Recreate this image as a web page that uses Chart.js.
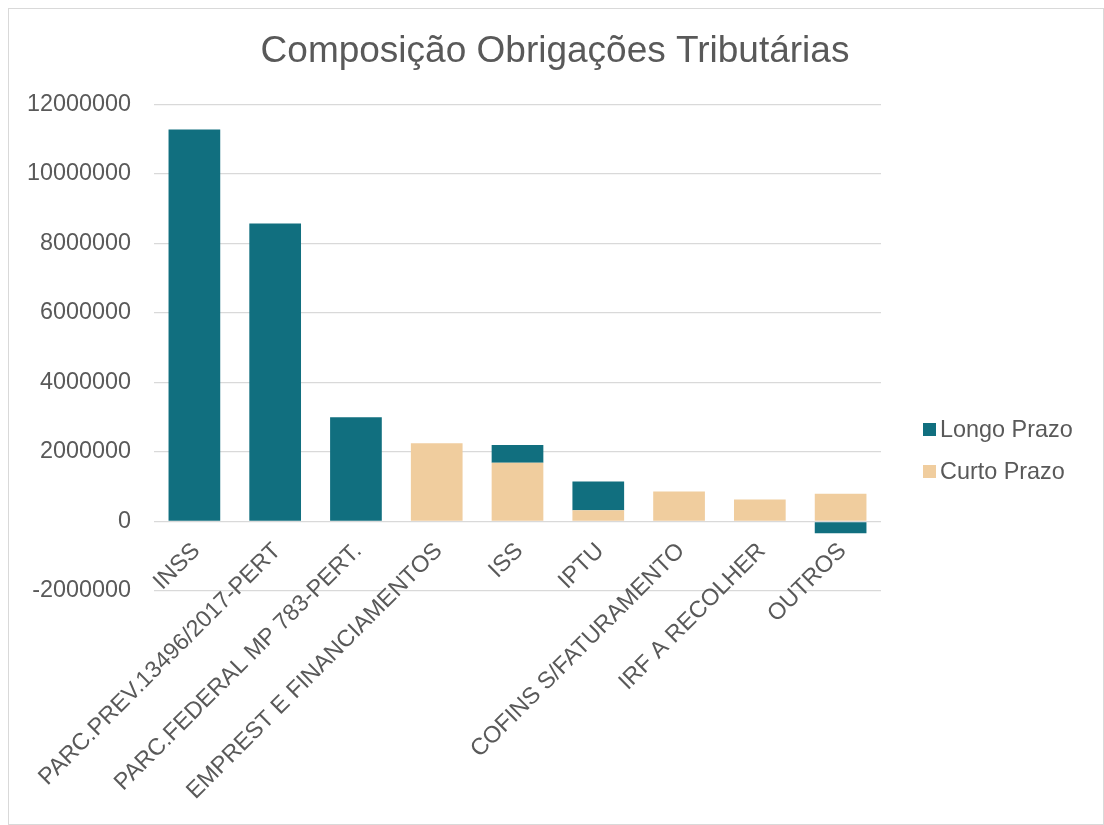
<!DOCTYPE html>
<html>
<head>
<meta charset="utf-8">
<script src="https://cdn.jsdelivr.net/npm/chart.js@4"></script>
<style>
  body { margin: 0; background: #fff; font-family: "Liberation Sans", Arial, sans-serif; }
  #wrap { position: absolute; left: 0; top: 0; width: 1104px; height: 825px; }
  #frame { position: absolute; left: 8px; top: 8px; width: 1094px; height: 815px; border: 1px solid #d9d9d9; pointer-events: none; }
  #legend { position: absolute; left: 923px; top: 415px; color: #595959; font-size: 23.4px; }
  #legend .item { display: flex; align-items: center; height: 28px; margin-bottom: 14px; }
  #legend .box { width: 13px; height: 13px; margin-right: 4px; }
</style>
</head>
<body>
<div id="wrap">
  <canvas id="chart" width="1104" height="825"></canvas>
  <div id="frame"></div>
  <div id="legend"></div>
</div>
<script>
// categories and values
const categories = [
  "INSS",
  "PARC.PREV.13496/2017-PERT",
  "PARC.FEDERAL MP 783-PERT.",
  "EMPREST E FINANCIAMENTOS",
  "ISS",
  "IPTU",
  "COFINS S/FATURAMENTO",
  "IRF A RECOLHER",
  "OUTROS"
];
const curtoPrazo = [0, 0, 0, 2250000, 1690000, 320000, 860000, 630000, 800000];
const longoPrazo = [11280000, 8570000, 3000000, 0, 510000, 830000, 0, 0, -340000];
const yTicks = { min: -2000000, max: 12000000, step: 2000000 };

const textColor = "#595959";
const fontFamily = "'Liberation Sans', Arial, sans-serif";

const chart = new Chart(document.getElementById("chart"), {
  type: "bar",
  data: {
    labels: categories,
    datasets: [
      {
        label: "Curto Prazo",
        data: curtoPrazo,
        backgroundColor: "#F0CD9E",
      },
      {
        label: "Longo Prazo",
        data: longoPrazo,
        backgroundColor: "#116F7F",
      },
    ],
  },
  options: {
    responsive: false,
    animation: false,
    layout: { padding: { left: 6, right: 0, top: 0, bottom: 234 } },
    datasets: { bar: { barPercentage: 0.64, categoryPercentage: 1 } },
    plugins: {
      legend: { display: false },
      tooltip: { enabled: false },
      title: {
        display: true,
        text: "Composição Obrigações Tributárias",
        color: textColor,
        font: { family: fontFamily, size: 37, weight: "normal" },
        padding: { top: 30, bottom: 30 },
      },
    },
    scales: {
      x: {
        stacked: true,
        position: { y: 0 },
        grid: { display: false },
        border: { display: false },
        ticks: {
          autoSkip: false,
          minRotation: 45,
          maxRotation: 45,
          padding: 8,
          labelOffset: 2,
          color: textColor,
          font: { family: fontFamily, size: 23.4 },
        },
      },
      y: {
        stacked: true,
        min: yTicks.min,
        max: yTicks.max,
        afterFit: (scale) => { scale.width = 148; },
        grid: { color: "#d9d9d9", lineWidth: 1.3, drawTicks: false },
        border: { display: false },
        ticks: {
          stepSize: yTicks.step,
          padding: 23,
          color: textColor,
          font: { family: fontFamily, size: 23.4 },
          callback: (v) => String(v),
        },
      },
      // empty right axis: keeps the legend gap so the title stays centred on the whole chart
      spacer: {
        type: "linear",
        position: "right",
        grid: { display: false },
        border: { display: false },
        ticks: { display: false },
        afterFit: (scale) => { scale.width = 223; },
      },
    },
  },
});

// legend in Excel order (top series first)
const legend = document.getElementById("legend");
chart.data.datasets.slice().reverse().forEach((ds) => {
  const item = document.createElement("div");
  item.className = "item";
  item.innerHTML = `<span class="box" style="background:${ds.backgroundColor}"></span><span>${ds.label}</span>`;
  legend.appendChild(item);
});
</script>
</body>
</html>
